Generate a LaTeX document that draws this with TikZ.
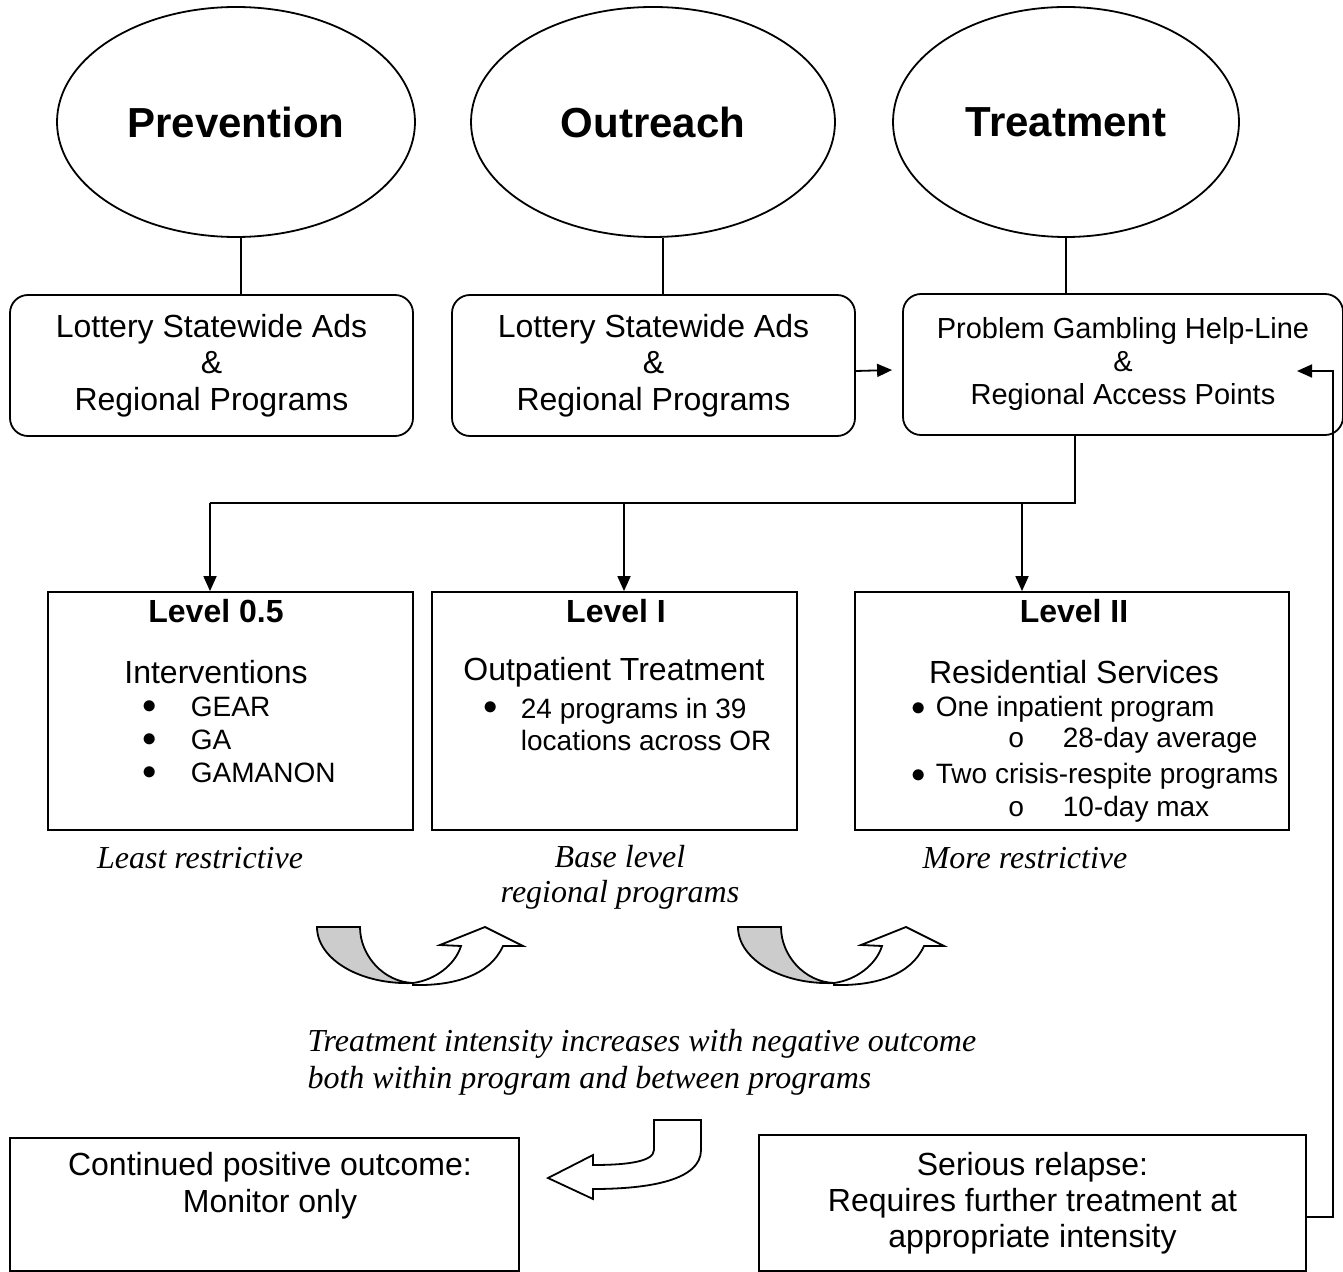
\documentclass[tikz,border=0pt]{standalone}
\usepackage{fontspec}
\setmainfont{Liberation Serif}
\setsansfont{Liberation Sans}
\setmonofont{Liberation Mono}
\usetikzlibrary{shapes.geometric,arrows.meta}

\begin{document}
\begin{tikzpicture}[x=0.5pt,y=-0.5pt,line width=0.9pt,
  oval/.style={ellipse,draw,minimum width=#1,minimum height=115pt,font=\sffamily\bfseries\fontsize{21}{25}\selectfont},
  rbox/.style={draw,rounded corners=9pt,align=center,minimum height=70.5pt,font=\sffamily\fontsize{16}{18.25}\selectfont},
  sqbox/.style={draw,minimum height=119pt},
  lvlhead/.style={font=\sffamily\bfseries\fontsize{16}{19}\selectfont,inner sep=1pt},
  lvlsub/.style={font=\sffamily\fontsize{16}{18.5}\selectfont,align=center,inner sep=1pt},
  lvlitem/.style={font=\sffamily\fontsize{14}{16}\selectfont,anchor=west,align=left,inner sep=0pt},
  sidenote/.style={font=\itshape\fontsize{16}{17.5}\selectfont,align=center},
  arr/.style={-{Triangle[length=7.5pt,width=6.5pt]}}]
\useasboundingbox (0,0) rectangle (1343,1272);

% top row
\foreach \n/\t/\cx/\w in {prev/Prevention/236/179pt,outr/Outreach/653/182pt,treat/Treatment/1066/173pt}
  \node[oval=\w] (\n) at (\cx,122) {\t};
\node[rbox,minimum width=201.5pt] (lot1) at (211.5,365.5) {Lottery Statewide Ads\\\&\\Regional Programs};
\node[rbox,minimum width=201.5pt] (lot2) at (653.5,365.5) {Lottery Statewide Ads\\\&\\Regional Programs};
\node[rbox,minimum width=220pt,font=\sffamily\fontsize{14.5}{16.5}\selectfont] (help) at (1123,364.5)
  {Problem Gambling Help-Line\\\&\\Regional Access Points};
\foreach \e/\b/\s in {prev/lot1/2.5pt,outr/lot2/5pt,treat/help/0pt}
  \draw ([xshift=\s]\e.south) -- ([xshift=\s]\e.south |- \b.north);
\draw[arr] ([yshift=-2.75pt]lot2.east) -- ([yshift=-2.75pt,xshift=-5pt]help.west);

% levels
\node[sqbox,minimum width=182.5pt] (lv0) at (230.5,711) {};
\node[sqbox,minimum width=182.5pt] (lv1) at (614.5,711) {};
\node[sqbox,minimum width=217pt] (lv2) at (1072,711) {};
\coordinate (split) at (1075,503);
\coordinate (d0) at (210,503);
\coordinate (d1) at (624,503);
\coordinate (d2) at (1022,503);
\draw (split |- help.south) -- (split) -- (d0);
\foreach \d/\b in {d0/lv0,d1/lv1,d2/lv2}
  \draw[arr] (\d) -- (\d |- \b.north);

\node[lvlhead] (h0) at (216,611) {Level 0.5};
\node[lvlsub] (s0) at (216,672) {Interventions};
\foreach \y/\t [count=\i] in {707/GEAR,740/GA,773/GAMANON}{
  \node[lvlitem] (b0\i) at (142,\y) {$\bullet$};
  \node[lvlitem] (i0\i) at (190,\y) {\t};}

\node[lvlhead] (h1) at (616,611) {Level I};
\node[lvlsub] (s1) at (614,672) {Outpatient Treatment};
\node[lvlitem] (b11) at (483,708) {$\bullet$};
\node[lvlitem] (i11) at (520,724) {24 programs in 39\\locations across OR};

\node[lvlhead] (h2) at (1074,611) {Level II};
\node[lvlsub] (s2) at (1074,672) {Residential Services};
\foreach \y/\t/\u/\v [count=\i] in {709/One inpatient program/740/28-day average,776/Two crisis-respite programs/809/10-day max}{
  \node[lvlitem] (b2\i) at (911,\y) {$\bullet$};
  \node[lvlitem] (i2\i) at (935,\y) {\t};
  \node[lvlitem,font=\ttfamily\fontsize{14}{16}\selectfont] (c2\i) at (1007,\u) {o};
  \node[lvlitem] (j2\i) at (1062,\u) {\v};}

% notes
\node[sidenote] (n0) at (200,858) {Least restrictive};
\node[sidenote] (n1) at (620,877) {Base level\\regional programs};
\node[sidenote] (n2) at (1025,858) {More restrictive};
\node[sidenote,align=left,anchor=west,font=\itshape\fontsize{16}{18.5}\selectfont] (n3) at (300,1062)
  {Treatment intensity increases with negative outcome\\both within program and between programs};

% curved arrows
\foreach \dx in {0,421}{
\begin{scope}[shift={(\dx,0)}]
  \filldraw[fill=white] (413,983) .. controls (435,980) and (455,965) .. (461,946) -- (440,945)
    -- (485,927) -- (523,946) -- (503,946) .. controls (490,975) and (455,986) .. (413,985) -- cycle;
  \filldraw[fill=gray!40] (317,927) -- (360,927) .. controls (360,956) and (384,982) .. (413,983)
    .. controls (360,985) and (317,959) .. (317,927) -- cycle;
\end{scope}}

% outcomes
\node[draw,minimum width=254.5pt,minimum height=66.5pt] (cont) at (264.5,1204.5) {};
\node[lvlsub] (ct) at (270,1186) {Continued positive outcome:\\Monitor only};
\node[draw,minimum width=273.5pt,minimum height=68pt,lvlsub,font=\sffamily\fontsize{16}{18}\selectfont] (relapse) at (1032.5,1203)
  {Serious relapse:\\Requires further treatment at\\appropriate intensity};
\filldraw[fill=white] (654,1120) -- (701,1120) -- (701,1150) .. controls (701,1180) and (650,1189) .. (593,1189)
  -- (593,1199) -- (548,1178) -- (593,1155) -- (593,1165) .. controls (620,1165) and (654,1163) .. (654,1150) -- cycle;
\coordinate (rexit) at (1306,1217);
\coordinate (rtop) at (1333,371);
\coordinate (rend) at (1297,371);
\draw[arr] (rexit) -- (rexit -| rtop) -- (rtop) -- (rend);
\end{tikzpicture}
\end{document}
